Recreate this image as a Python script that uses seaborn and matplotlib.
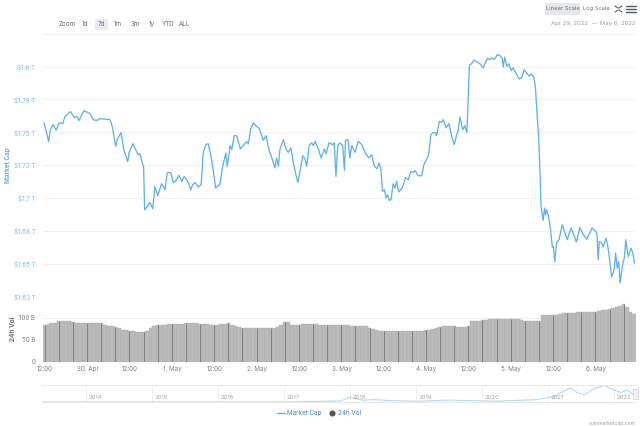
import matplotlib
matplotlib.use('Agg')
import matplotlib.pyplot as plt
from matplotlib.lines import Line2D
from matplotlib.patches import Rectangle
import numpy as np
import pandas as pd
import seaborn as sns

# Market cap, hours since the start of the window and value in trillion USD
cap_hours = [
    0.3, 0.8, 1.6, 2.1, 2.9, 3.7, 4.6, 5.6, 6.2, 7.8, 8.9, 9.6, 10.2, 11.6, 13.3, 14.2, 15.2, 16.1, 17.6, 19.0,
    19.7, 20.6, 21.0, 22.1, 22.9, 24.0, 24.4, 25.5, 26.9, 27.5, 28.0, 28.5, 28.8, 29.8, 30.3, 31.1, 31.7, 32.5, 33.6, 34.6,
    35.2, 36.2, 36.9, 37.5, 38.5, 39.3, 40.0, 41.0, 41.9, 42.4, 43.1, 44.0, 44.8, 45.4, 46.1, 46.8, 47.6, 48.2, 48.9, 49.5,
    50.1, 50.8, 51.8, 52.2, 53.0, 53.5, 54.2, 54.9, 55.9, 56.7, 57.7, 58.2, 58.8, 59.6, 60.5, 61.3, 62.4, 63.2, 64.0, 64.8,
    65.7, 66.2, 66.7, 67.1, 67.6, 68.1, 68.8, 69.5, 70.2, 71.2, 72.2, 72.8, 73.6, 74.2, 74.7, 75.4, 76.1, 76.6, 77.1, 78.0,
    78.8, 79.7, 80.2, 81.0, 82.2, 82.5, 83.0, 83.5, 84.1, 84.9, 85.4, 85.7, 86.4, 86.9, 87.5, 88.4, 89.3, 90.3, 91.4, 92.4,
    93.1, 93.9, 94.7, 95.2, 95.7, 96.2, 96.7, 97.2, 97.6, 98.1, 98.6, 99.2, 99.7, 100.2, 100.8, 101.9, 102.7, 103.5, 104.2, 104.9,
    105.4, 106.3, 107.3, 107.9, 109.2, 109.9, 110.6, 111.2, 111.5, 112.3, 112.9, 113.4, 114.2, 115.0, 115.8, 116.5, 117.2, 117.6, 118.1, 118.9,
    119.5, 120.1, 120.8, 121.4, 122.1, 122.9, 123.8, 124.7, 125.9, 126.6, 127.3, 127.9, 128.7, 129.5, 130.1, 130.4, 130.8, 131.4, 132.0, 132.6,
    133.2, 134.2, 134.9, 135.6, 136.3, 137.0, 137.7, 138.4, 139.1, 139.5, 139.9, 140.5, 140.8, 141.1, 141.7, 142.1, 142.4, 142.7, 143.3, 143.8,
    144.3, 144.6, 145.0, 145.5, 146.2, 147.1, 147.9, 148.5, 149.6, 150.2, 151.1, 152.1, 153.1, 154.0, 155.6, 156.9, 157.3, 157.6, 158.3, 158.7,
    159.5, 160.1, 161.1, 161.8, 162.2, 162.7, 163.1, 163.5, 164.1, 164.7, 165.1, 165.8, 166.6, 167.1, 167.6,
]
cap_values = [
    1.7571, 1.752, 1.7429, 1.752, 1.7558, 1.7515, 1.7573, 1.7566, 1.7619, 1.7657, 1.7611, 1.7621, 1.7589, 1.7665, 1.7642, 1.7596, 1.7589, 1.7604, 1.76, 1.7596,
    1.7535, 1.7393, 1.7444, 1.7497, 1.7368, 1.7276, 1.7345, 1.7413, 1.7329, 1.7337, 1.7278, 1.7238, 1.691, 1.6943, 1.6966, 1.6918, 1.7086, 1.7017, 1.7108, 1.7063,
    1.7192, 1.7192, 1.7118, 1.7126, 1.7172, 1.7126, 1.7164, 1.7126, 1.7063, 1.7101, 1.7118, 1.7083, 1.7101, 1.7345, 1.7406, 1.7413, 1.7316, 1.7215, 1.7076, 1.7093,
    1.7099, 1.7228, 1.7342, 1.7238, 1.7398, 1.7368, 1.7474, 1.7474, 1.7373, 1.7398, 1.7429, 1.7411, 1.752, 1.7571, 1.7545, 1.7528, 1.7438, 1.7474, 1.7368, 1.7307,
    1.7228, 1.7304, 1.724, 1.7368, 1.7406, 1.7444, 1.7373, 1.7347, 1.7381, 1.7228, 1.7118, 1.7202, 1.7322, 1.7297, 1.724, 1.7398, 1.7419, 1.7398, 1.7431, 1.7373,
    1.7304, 1.7373, 1.7335, 1.7419, 1.7406, 1.7419, 1.7164, 1.7398, 1.7419, 1.7398, 1.721, 1.7438, 1.7444, 1.7304, 1.7398, 1.7347, 1.7431, 1.7406, 1.7337, 1.7304,
    1.7329, 1.724, 1.7223, 1.7266, 1.7228, 1.705, 1.7063, 1.6999, 1.7025, 1.6981, 1.6987, 1.7108, 1.7076, 1.7126, 1.7045, 1.7083, 1.7156, 1.7139, 1.7202, 1.7195,
    1.7208, 1.7169, 1.7169, 1.7253, 1.7322, 1.7482, 1.7499, 1.7495, 1.7474, 1.7583, 1.7576, 1.7596, 1.7533, 1.7566, 1.7469, 1.7406, 1.7482, 1.7507, 1.7617, 1.752,
    1.755, 1.7499, 1.801, 1.8021, 1.8048, 1.8036, 1.8021, 1.799, 1.8061, 1.8053, 1.8066, 1.8053, 1.8091, 1.8082, 1.8066, 1.7995, 1.8071, 1.8002, 1.8021, 1.797,
    1.799, 1.7939, 1.7906, 1.7914, 1.7975, 1.7952, 1.7926, 1.7944, 1.7914, 1.784, 1.7672, 1.7421, 1.7192, 1.6935, 1.6829, 1.6923, 1.6872, 1.691, 1.6849, 1.6758,
    1.6626, 1.6631, 1.6516, 1.6657, 1.6682, 1.6796, 1.6733, 1.6682, 1.6771, 1.6733, 1.6664, 1.6775, 1.672, 1.6687, 1.6771, 1.6733, 1.6529, 1.6669, 1.6657, 1.6626,
    1.6695, 1.6618, 1.6398, 1.6453, 1.658, 1.6466, 1.6516, 1.6352, 1.6478, 1.6545, 1.6682, 1.6554, 1.6618, 1.658, 1.6504,
]

# 24h volume in billion USD, one bar per hour
vol_values = [
    85, 87, 88, 88, 92, 92, 92, 92, 91.5, 89, 89, 89,
    89, 89, 88.5, 88.5, 88.5, 83, 82, 81, 80, 78, 73, 72,
    71, 70, 68, 67, 68, 69.5, 78, 81, 83, 84, 85, 86,
    86, 86, 87, 87, 87.5, 88, 88, 88.5, 87, 86, 85.5, 85,
    84.6, 85, 86, 87, 87.8, 83, 81, 80, 78, 78, 78, 77.7,
    77.7, 77.7, 77.5, 77.5, 77.7, 78, 79, 85, 90, 90, 84, 84,
    84.6, 86, 87, 87, 86.5, 86, 83, 84, 84, 84, 84, 84,
    83, 83, 83, 82.5, 82, 81.5, 81, 81, 77, 74, 72, 71,
    71, 71, 70.5, 70.5, 70.5, 70.5, 70.5, 70.5, 70, 70, 70, 70,
    72, 73, 75, 77, 80, 81, 82, 82, 82, 78.6, 79, 80,
    81, 92, 93, 94, 95, 96, 97, 98, 98.4, 98.4, 98.4, 98.4,
    98.4, 98, 97, 95, 94, 93, 92.5, 92.4, 92.4, 107, 107, 106.5,
    106, 106, 110, 111, 112, 112, 112.5, 113, 113, 113.5, 113.5, 114,
    114, 116, 118, 119, 120.7, 122, 125, 127, 131, 125, 113, 110,
]

# Navigator, whole history of the market cap
nav_years = [2013.33, 2014, 2015, 2016, 2017, 2017.5, 2017.85, 2018.0, 2018.2, 2018.35, 2018.6, 2019, 2019.4, 2019.5, 2020,
             2020.2, 2020.5, 2020.8, 2021, 2021.1, 2021.18, 2021.33, 2021.45, 2021.55, 2021.7, 2021.85, 2022.0, 2022.1, 2022.2, 2022.33]
nav_values = [0.0, 0.01, 0.006, 0.007, 0.018, 0.1, 0.2, 0.8, 0.3, 0.45, 0.25, 0.13, 0.3, 0.33, 0.2,
              0.15, 0.28, 0.4, 0.75, 1.0, 1.6, 2.45, 1.6, 1.3, 2.4, 2.9, 2.1, 1.7, 2.1, 1.0]

cap_ticks = [1.625, 1.65, 1.675, 1.7, 1.725, 1.75, 1.775, 1.8, 1.825]
cap_tick_labels = ['$1.63 T', '$1.65 T', '$1.68 T', '$1.7 T', '$1.73 T', '$1.75 T', '$1.78 T', '$1.8 T', '']
vol_ticks = [0, 50, 100]
vol_tick_labels = ['0', '50 B', '100 B']
time_ticks = [0.6, 12.6, 24.6, 36.6, 48.6, 60.6, 72.6, 84.6, 96.6, 108.6, 120.6, 132.6, 144.6, 156.6]
time_labels = ['12:00', '30. Apr', '12:00', '1. May', '12:00', '2. May', '12:00', '3. May',
               '12:00', '4. May', '12:00', '5. May', '12:00', '6. May']
nav_ticks = [2014, 2015, 2016, 2017, 2018, 2019, 2020, 2021, 2022]
zoom_labels = ['Zoom', '1d', '7d', '1m', '3m', '1y', 'YTD', 'ALL']

W, H = 640, 426
BLUE = '#62B3E5'
GRID = '#F1F1F1'
TEXT = '#7A7E86'
UI_TEXT = '#6A6E78'


def px_axes(fig, left, top, right, bottom):
    # Axes from pixel edges of the picture
    return fig.add_axes([left / W, 1 - bottom / H, (right - left) / W, (bottom - top) / H])


def main():
    sns.set_theme(style='white')
    plt.rcParams['font.family'] = ['Inter', 'DejaVu Sans']
    fig = plt.figure(figsize=(W / 100, H / 100), dpi=100)

    # Market cap panel
    ax = px_axes(fig, 43, 33.7, 636, 296.5)
    cap_df = pd.DataFrame({'hour': cap_hours, 'cap': cap_values})
    sns.lineplot(data=cap_df, x='hour', y='cap', color=BLUE, lw=0.95, estimator=None, ax=ax)
    ax.set_xlim(0, 168)
    ax.set_ylim(1.625, 1.825)
    ax.set_yticks(cap_ticks, cap_tick_labels)
    ax.set_xticks([])
    ax.set_xlabel('')
    ax.set_ylabel('')
    ax.grid(axis='y', color=GRID, lw=0.8)
    ax.tick_params(axis='y', length=0, pad=5.5, labelsize=4.5, labelcolor='#7DC0EA')
    sns.despine(ax=ax, left=True, bottom=True)

    # Volume panel
    ax2 = px_axes(fig, 43, 301, 636, 361.5)
    vol_df = pd.DataFrame({'hour': np.arange(len(vol_values)) + 0.5, 'vol': vol_values})
    ax2.set_axisbelow(True)
    ax2.grid(axis='y', color=GRID, lw=0.8)
    sns.barplot(data=vol_df, x='hour', y='vol', native_scale=True, color='#BBBBBB', saturation=1,
                width=1, edgecolor='#ABABAB', linewidth=0.25, errorbar=None, ax=ax2)
    # The darker stripes of the bar pattern
    every4 = vol_df.iloc[::4]
    ax2.vlines(every4['hour'], 0, every4['vol'], color='#808080', lw=0.7)
    ax2.set_xlim(0, 168)
    ax2.set_ylim(0, 139)
    ax2.set_yticks(vol_ticks, vol_tick_labels)
    ax2.set_xticks(time_ticks, time_labels)
    ax2.set_xlabel('')
    ax2.set_ylabel('')
    ax2.tick_params(axis='y', length=0, pad=5.5, labelsize=4.5, labelcolor=TEXT)
    ax2.tick_params(axis='x', length=0, pad=3.5, labelsize=4.5, labelcolor=TEXT)
    sns.despine(ax=ax2, left=True, bottom=True)

    # Navigator
    ax3 = px_axes(fig, 42, 385, 636, 402.3)
    nav_df = pd.DataFrame({'year': nav_years, 'cap': nav_values})
    sns.lineplot(data=nav_df, x='year', y='cap', color='#B3DAF2', lw=0.8, estimator=None, ax=ax3)
    ax3.set_xlim(2013.33, 2022.33)
    ax3.set_ylim(-0.05, 3.0)
    ax3.set_xticks([])
    ax3.set_yticks([])
    ax3.set_xlabel('')
    ax3.set_ylabel('')
    for year in nav_ticks:
        ax3.axvline(year, color='#EFEFEF', lw=0.7, zorder=0)
        ax3.text(year + 0.03, 0.13, str(year), transform=ax3.get_xaxis_transform(),
                 ha='left', va='bottom', fontsize=4.3, color='#A5A5A5')
    sns.despine(ax=ax3, left=True, right=True, top=False, bottom=False)
    for side in ['top', 'bottom']:
        ax3.spines[side].set_color('#E8E8E8')
        ax3.spines[side].set_linewidth(0.7)

    # Page furniture around the chart, placed in pixels
    ui = fig.add_axes([0, 0, 1, 1], zorder=5)
    ui.set_xlim(0, W)
    ui.set_ylim(H, 0)
    ui.axis('off')
    ui.patch.set_alpha(0)

    ui.add_patch(Rectangle((95, 18.5), 13, 11, color='#E9EBF3', lw=0))
    ui.add_patch(Rectangle((545, 3), 35, 12, color='#E6E7EC', lw=0))
    for x, label in zip([67, 85, 101, 118, 135, 152, 168, 185], zoom_labels):
        ui.text(x, 24, label, ha='center', va='center', fontsize=4.5, color=UI_TEXT)
    ui.text(562.5, 8.7, 'Linear Scale', ha='center', va='center', fontsize=4.1, color=UI_TEXT)
    ui.text(596, 8.7, 'Log Scale', ha='center', va='center', fontsize=4.1, color=UI_TEXT)
    ui.text(569.5, 23.5, 'Apr 29, 2022', ha='center', va='center', fontsize=4.3, color='#989CA4')
    ui.text(594, 23.5, '\u2014', ha='center', va='center', fontsize=3.5, color='#989CA4')
    ui.text(617.5, 23.5, 'May 6, 2022', ha='center', va='center', fontsize=4.3, color='#989CA4')
    ui.text(8, 165, 'Market Cap', rotation=90, ha='center', va='center', fontsize=4.6, color=BLUE, fontweight='bold')
    ui.text(13, 329, '24h Vol', rotation=90, ha='center', va='center', fontsize=4.6, color=UI_TEXT, fontweight='bold')
    ui.text(636, 423, 'coinmarketcap.com', ha='right', va='center', fontsize=3.6, color='#989CA4')

    # Menu and full screen icons
    for y in [5.5, 8.5, 11.5]:
        ui.plot([626, 636], [y, y], color='#555A66', lw=1.0)
    for x0, x1, y0, y1 in [(615, 618, 6, 8), (622, 619, 6, 8), (615, 618, 12, 10), (622, 619, 12, 10)]:
        ui.plot([x0, x1], [y0, y1], color='#555A66', lw=0.8)

    # Navigator handle at the right end
    ui.add_patch(Rectangle((632.5, 389), 5, 10, facecolor='#F0F0F0', edgecolor='#D4D4D4', lw=0.5))

    # Legend
    handles = [Line2D([], [], color=BLUE, lw=1.0),
               Line2D([], [], color='#555555', marker='o', ms=3.4, lw=0)]
    fig.legend(handles, ['Market Cap', '24h Vol'], loc='center', bbox_to_anchor=(319 / W, 1 - 413 / H),
               ncol=2, frameon=False, fontsize=4.5, labelcolor='#4A80B8', handlelength=1.4,
               handletextpad=0.3, columnspacing=1.0, borderpad=0)

    fig.savefig('out.png', dpi=100)


if __name__ == "__main__":
    main()
